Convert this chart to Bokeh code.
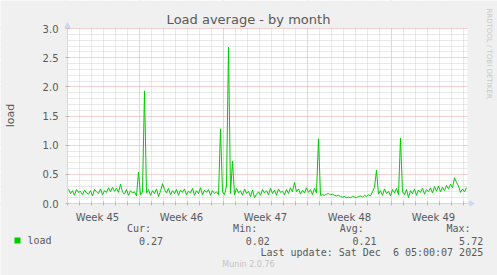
import math
from bokeh.plotting import figure
from bokeh.models import (FixedTicker, Label, BoxAnnotation, NumeralTickFormatter,
                          Range1d, Arrow, NormalHead, LinearAxis, Grid)
from bokeh.embed import file_html
from bokeh.resources import INLINE

# ---------------- data ----------------
TITLE = "Load average - by month"
Y_LABEL = "load"
SERIES_NAME = "load"

# one sample every 4 hours (1/6 day), days counted from the left edge of the graph
STEP_DAYS = 1.0 / 6.0
load_values = [
    0.25, 0.17, 0.22, 0.14, 0.24, 0.19, 0.21, 0.15, 0.23, 0.18,
    0.16, 0.22, 0.13, 0.24, 0.20, 0.17, 0.25, 0.15, 0.22, 0.19,
    0.27, 0.20, 0.28, 0.21, 0.26, 0.19, 0.33, 0.20, 0.16, 0.24,
    0.14, 0.22, 0.18, 0.20, 0.13, 0.54, 0.15, 0.20, 1.93, 0.18,
    0.24, 0.14, 0.22, 0.17, 0.25, 0.12, 0.21, 0.34, 0.24, 0.18,
    0.26, 0.15, 0.22, 0.17, 0.24, 0.14, 0.23, 0.19, 0.25, 0.15,
    0.21, 0.18, 0.26, 0.14, 0.22, 0.17, 0.27, 0.15, 0.23, 0.19,
    0.24, 0.14, 0.22, 0.17, 0.20, 0.15, 1.28, 0.20, 0.15, 0.30,
    2.68, 0.17, 0.73, 0.15, 0.26, 0.18, 0.22, 0.14, 0.25, 0.17,
    0.21, 0.12, 0.23, 0.10, 0.16, 0.20, 0.14, 0.24, 0.18, 0.22,
    0.15, 0.26, 0.17, 0.23, 0.14, 0.25, 0.19, 0.21, 0.15, 0.24,
    0.17, 0.27, 0.20, 0.36, 0.20, 0.25, 0.16, 0.23, 0.18, 0.27,
    0.19, 0.24, 0.15, 0.26, 0.18, 1.11, 0.14, 0.15, 0.14, 0.16,
    0.17, 0.15, 0.16, 0.14, 0.13, 0.14, 0.12, 0.11, 0.12, 0.10,
    0.11, 0.10, 0.12, 0.11, 0.10, 0.12, 0.13, 0.11, 0.14, 0.12,
    0.15, 0.13, 0.20, 0.28, 0.57, 0.16, 0.22, 0.14, 0.25, 0.17,
    0.21, 0.13, 0.24, 0.18, 0.26, 0.15, 1.12, 0.20, 0.15, 0.24,
    0.10, 0.22, 0.17, 0.25, 0.14, 0.23, 0.19, 0.26, 0.16, 0.24,
    0.20, 0.27, 0.18, 0.29, 0.21, 0.30, 0.20, 0.28, 0.22, 0.31,
    0.25, 0.33, 0.27, 0.44, 0.36, 0.30, 0.19, 0.25, 0.20, 0.27,
]
times = [(i + 0.5) * STEP_DAYS for i in range(len(load_values))]

X_END = 400.0 / 12.0  # days shown
Y_MAX = 3.0
week_labels = ["Week 45", "Week 46", "Week 47", "Week 48", "Week 49"]
week_centers = [2.5, 9.5, 16.5, 23.5, 30.5]
week_starts = [6, 13, 20, 27]
day_ticks = list(range(0, 34))

y_major = [0.0, 0.5, 1.0, 1.5, 2.0, 2.5, 3.0]
y_minor = [round(k * 0.1, 1) for k in range(1, 30) if k % 5 != 0]

stat_headers = ["Cur:", "Min:", "Avg:", "Max:"]
stat_values = ["0.27", "0.02", "0.21", "5.72"]
LAST_UPDATE = "Last update: Sat Dec \u00a06 05:00:07 2025"
FOOTER = "Munin 2.0.76"
WATERMARK = "RRDTOOL / TOBI OETIKER"

# ---------------- layout / style ----------------
W, H = 497, 275
CHART_L, CHART_R, CHART_T, CHART_B = 67, 467, 28, 203  # canvas pixels of the data area
PX_X = X_END / (CHART_R - CHART_L)
PX_Y = Y_MAX / (CHART_B - CHART_T)

BACK = "#F0F0F0"
FONT_C = "#595959"
AXIS_C = "#CFD6F8"
LINE_C = "#00CC00"
FONT = "DejaVu Sans"
MONO = "DejaVu Sans Mono"

p = figure(width=W, height=H, output_backend="svg", toolbar_location=None,
           x_axis_type=None, y_axis_type=None, title=None,
           x_range=Range1d(-CHART_L * PX_X, (W - CHART_L) * PX_X),
           y_range=Range1d(-(H - CHART_B) * PX_Y, Y_MAX + CHART_T * PX_Y),
           min_border=0, min_border_left=0, min_border_right=0,
           min_border_top=0, min_border_bottom=0)
p.background_fill_color = "#FFFFFF"
p.border_fill_color = BACK
p.outline_line_color = None

# grids
xg = Grid(dimension=0, ticker=FixedTicker(ticks=week_starts,
                                          minor_ticks=[d for d in day_ticks if d not in week_starts]))
yg = Grid(dimension=1, ticker=FixedTicker(ticks=y_major, minor_ticks=y_minor))
for g in (xg, yg):
    g.grid_line_color = "#E6A3A3"
    g.grid_line_dash = "1 1"
    g.grid_line_width = 1
    g.minor_grid_line_color = "#D2D2D2"
    g.minor_grid_line_dash = "1 1"
    g.minor_grid_line_width = 1
    p.add_layout(g)

# grey surround outside the data area (covers grid lines there)
for kw in (dict(right=0), dict(left=X_END), dict(bottom=Y_MAX + 0.6 * PX_Y), dict(top=0)):
    p.add_layout(BoxAnnotation(fill_color=BACK, fill_alpha=1.0, line_color=None, level="glyph", **kw))

p.line(times, load_values, line_color=LINE_C, line_width=1)

# x axis
xa = LinearAxis(fixed_location=0, bounds=(0, X_END))
xa.ticker = FixedTicker(ticks=week_centers, minor_ticks=day_ticks)
xa.major_label_overrides = {c: l for c, l in zip(week_centers, week_labels)}
xa.major_tick_line_color = None
xa.minor_tick_line_color = "#BBBBBB"
xa.minor_tick_in = 2
xa.minor_tick_out = 2
xa.axis_line_color = AXIS_C
xa.major_label_standoff = 2
xa.major_label_text_font = FONT
xa.major_label_text_font_size = "10px"
xa.major_label_text_color = FONT_C
p.add_layout(xa, "below")

# y axis
ya = LinearAxis(fixed_location=0, bounds=(0, Y_MAX))
ya.ticker = FixedTicker(ticks=y_major, minor_ticks=y_minor)
ya.formatter = NumeralTickFormatter(format="0.0")
ya.major_tick_line_color = "#BBBBBB"
ya.major_tick_in = 2
ya.major_tick_out = 2
ya.minor_tick_line_color = None
ya.axis_line_color = AXIS_C
ya.major_label_standoff = 5
ya.major_label_text_font = FONT
ya.major_label_text_font_size = "10px"
ya.major_label_text_color = FONT_C
p.add_layout(ya, "left")

# arrows at axis ends
p.add_layout(Arrow(x_start=CHART_R, y_start=H - CHART_B, x_end=CHART_R + 7, y_end=H - CHART_B,
                   start_units="screen", end_units="screen", line_color=AXIS_C, line_width=1,
                   end=NormalHead(size=5, fill_color=AXIS_C, line_color=AXIS_C)))
p.add_layout(Arrow(x_start=CHART_L, y_start=H - CHART_T, x_end=CHART_L, y_end=H - CHART_T + 6,
                   start_units="screen", end_units="screen", line_color=AXIS_C, line_width=1,
                   end=NormalHead(size=5, fill_color=AXIS_C, line_color=AXIS_C)))


def lab(text, cx, cy, align="left", font=FONT, size="10px", color=FONT_C, angle=0.0):
    p.add_layout(Label(x=cx, y=H - cy, x_units="screen", y_units="screen", text=text,
                       text_align=align, text_baseline="middle", text_font=font,
                       text_font_size=size, text_color=color, angle=angle))


lab(TITLE, 248, 19, align="center", size="13px")
lab(Y_LABEL, 10, 115, align="center", size="11px", angle=math.pi / 2)
lab(WATERMARK, 488, 53, align="center", size="7px", color="#C8C8C8", angle=-math.pi / 2)

# legend
p.add_layout(BoxAnnotation(left=14, right=20, top=H - 237, bottom=H - 243,
                           left_units="screen", right_units="screen", top_units="screen",
                           bottom_units="screen", fill_color=LINE_C, fill_alpha=1.0,
                           line_color=None))
lab(SERIES_NAME, 27, 240, font=MONO)
head_right = [150.5, 256.7, 363.3, 470.0]
val_right = [162.5, 269.3, 376.0, 482.7]
for h, v, hx, vx in zip(stat_headers, stat_values, head_right, val_right):
    lab(h, hx, 228, align="right", font=MONO)
    lab(v, vx, 240, align="right", font=MONO)
lab(LAST_UPDATE, 482.7, 251.5, align="right", font=MONO)
lab(FOOTER, 248, 264, align="center", size="8px", color="#C4C4C4")

open("out.html", "w").write(file_html(p, INLINE))
